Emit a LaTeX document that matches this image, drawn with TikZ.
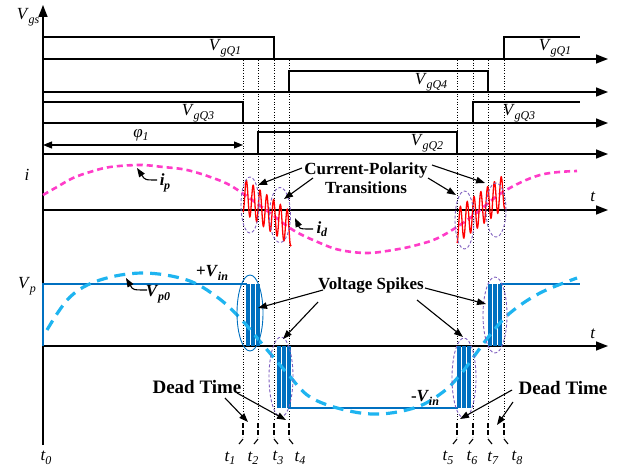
\documentclass[tikz,border=0pt]{standalone}
\usepackage{fontspec}
\setmainfont{Liberation Serif}
\usetikzlibrary{arrows.meta}
\definecolor{vblue}{HTML}{0070C0}
\definecolor{lblue}{HTML}{1EB4F0}
\definecolor{pinkm}{HTML}{FF3CC8}
\definecolor{purp}{HTML}{7F5FBF}
\newcommand{\sgl}[2]{\textit{#1}\kern-0.3pt\raisebox{-0.45ex}{\fontsize{12}{12}\selectfont\textit{#2}}}
\newcommand{\bsgl}[2]{\textbf{\textit{#1}}\kern-0.3pt\raisebox{-0.45ex}{\fontsize{12}{12}\selectfont\textbf{\textit{#2}}}}
\begin{document}
\begin{tikzpicture}[x=1pt,y=-1pt,
  axis/.style={line width=1.4pt,-{Triangle[length=12pt,width=9pt]}},
  pulse/.style={line width=1.4pt},
  guide/.style={line width=0.6pt,dash pattern=on 0.8pt off 1.8pt},
  tickd/.style={line width=1.1pt,dash pattern=on 5pt off 2pt},
  lab/.style={font=\fontsize{17}{20}\selectfont,inner sep=0pt},
  blab/.style={font=\fontsize{17}{20}\selectfont\bfseries,inner sep=0pt,align=center},
  pointer/.style={line width=1.1pt,-{Triangle[length=9pt,width=6.5pt]}},
  spike/.style={vblue,line width=3.2pt},
  ell/.style={purp,line width=0.9pt,dash pattern=on 3pt off 2pt}]
\useasboundingbox (0,0) rectangle (628,468);
% axes
\coordinate (O) at (43,445);
\coordinate (Ytop) at (43,5);
\draw[axis] (O) -- (Ytop);
\foreach \yy in {59,92,123,154,210,346}{
  \draw[axis] (43,\yy) -- (608,\yy);
}
\node[lab] (vgs) at (28,17) {\sgl{V}{gs}};
% gate pulses
\draw[pulse] (43,37) -- (274,37) -- (274,59);
\draw[pulse] (504,59) -- (504,37) -- (580,37);
\draw[pulse] (289,92) -- (289,71) -- (488,71) -- (488,92);
\draw[pulse] (43,102) -- (243,102) -- (243,123);
\draw[pulse] (473,123) -- (473,102) -- (580,102);
\draw[pulse] (258,154) -- (258,132) -- (457,132) -- (457,154);
\node[lab] (q1a) at (225,48) {\sgl{V}{gQ1}};
\node[lab] (q1b) at (555,48) {\sgl{V}{gQ1}};
\node[lab] (q4) at (431,82) {\sgl{V}{gQ4}};
\node[lab] (q3a) at (198,113) {\sgl{V}{gQ3}};
\node[lab] (q3b) at (519,113) {\sgl{V}{gQ3}};
\node[lab] (q2) at (427,143) {\sgl{V}{gQ2}};
% phi
\coordinate (phiL) at (43,145);
\coordinate (phiR) at (243,145);
\draw[line width=1.1pt,{Triangle[length=9pt,width=7pt]}-{Triangle[length=9pt,width=7pt]}] (phiL) -- (phiR);
\node[lab] (phi) at (141,135) {\sgl{φ}{1}};
% guides
\foreach \xx/\dd in {243/-4,258/-4,274/4,289/4,457/-4,473/-4,488/4,504/4}{
  \draw[guide] (\xx,60) -- (\xx,421);
  \draw[tickd] (\xx,423) -- (\xx,437);
  \draw[line width=1.1pt] (\xx,439) -- (\xx+\dd,444);
}
\node[lab] (t0) at (46,458) {\sgl{t}{0}};
\node[lab] (t1) at (230,458) {\sgl{t}{1}};
\node[lab] (t2) at (253,458) {\sgl{t}{2}};
\node[lab] (t3) at (278,458) {\sgl{t}{3}};
\node[lab] (t4) at (300,458) {\sgl{t}{4}};
\node[lab] (t5) at (448,458) {\sgl{t}{5}};
\node[lab] (t6) at (472,458) {\sgl{t}{6}};
\node[lab] (t7) at (493,458) {\sgl{t}{7}};
\node[lab] (t8) at (517,458) {\sgl{t}{8}};
% current channel
\node[lab] (ilab) at (27,175) {\textit{i}};
\node[lab] (tlab1) at (593,197) {\textit{t}};
\draw[pinkm,line width=2.6pt,dash pattern=on 6pt off 4pt] plot[smooth,tension=0.6] coordinates {(43,195) (57,187) (73,178) (90,172) (110,167) (140,165) (163,167) (187,170) (213,178) (233,187) (266,210) (293,230) (320,243) (340,250) (367,253) (393,250) (417,245) (440,237) (470,218) (503,192) (540,175) (577,171)};
\draw[red,line width=1.3pt] plot[domain=0:48,samples=240] ({243+\x},{195+\x*0.7083+17*cos(\x*52.94)});
\draw[red,line width=1.3pt] plot[domain=0:48,samples=240] ({457+\x},{226-\x*0.7292+17*cos(\x*52.94)});
\draw[ell] (250,205) ellipse [x radius=9pt,y radius=28pt];
\draw[ell] (280,215) ellipse [x radius=10.5pt,y radius=27.5pt];
\draw[ell] (464.5,220) ellipse [x radius=9.5pt,y radius=29pt];
\draw[ell] (496,210) ellipse [x radius=10pt,y radius=27pt];
\node[lab,font=\fontsize{17}{20}\selectfont\bfseries] (ip) at (165,183) {\bsgl{i}{p}};
\node[lab,font=\fontsize{17}{20}\selectfont\bfseries] (id) at (322,229) {\bsgl{i}{d}};
\coordinate (ipS) at (157,180); \coordinate (ipE) at (137,168);
\draw[pointer] (ipS) .. controls (145,180) .. (ipE);
\coordinate (idS) at (313,229); \coordinate (idE) at (295,218);
\draw[pointer] (idS) .. controls (300,229) .. (idE);
\node[blab] (cpt) at (366,178) {Current-Polarity\\[-1pt]Transitions};
\coordinate (a1s) at (302,168); \coordinate (a1e) at (258,185);
\coordinate (a2s) at (313,178); \coordinate (a2e) at (284,199);
\coordinate (a3s) at (432,165); \coordinate (a3e) at (485,183);
\coordinate (a4s) at (428,178); \coordinate (a4e) at (456,195);
\draw[pointer] (a1s) -- (a1e);
\draw[pointer] (a2s) -- (a2e);
\draw[pointer] (a3s) -- (a3e);
\draw[pointer] (a4s) -- (a4e);
% voltage channel
\node[lab] (vp) at (27,286) {\sgl{V}{p}};
\node[lab] (tlab2) at (593,334) {\textit{t}};
\draw[vblue,line width=1.2pt] (43,346) -- (43,284) -- (247,284);
\draw[vblue,line width=1.2pt] (288,408) -- (458,408);
\draw[vblue,line width=1.2pt] (500,284) -- (580,284);
\foreach \xx in {248,253,258}{\draw[spike] (\xx,284) -- (\xx,346);}
\foreach \xx in {279,284,289}{\draw[spike] (\xx,346) -- (\xx,408);}
\foreach \xx in {459,464,469}{\draw[spike] (\xx,346) -- (\xx,408);}
\foreach \xx in {490,495,500}{\draw[spike] (\xx,284) -- (\xx,346);}
\draw[lblue,line width=3.2pt,dash pattern=on 11pt off 7pt] plot[smooth,tension=0.6] coordinates {(47,330) (70,297) (100,280) (143,273) (187,280) (217,297) (240,318) (263,345) (287,373) (310,397) (345,410) (380,414) (417,407) (443,392) (460,375) (475,355) (490,335) (510,313) (540,293) (577,278)};
\draw[vblue,line width=0.9pt] (250,313) ellipse [x radius=13pt,y radius=38pt];
\draw[ell] (281,377) ellipse [x radius=12pt,y radius=40pt];
\draw[ell] (464,378) ellipse [x radius=12pt,y radius=40pt];
\draw[ell] (495,315) ellipse [x radius=12pt,y radius=38pt];
\node[lab,font=\fontsize{17}{20}\selectfont\bfseries] (pvin) at (212,273) {+\bsgl{V}{in}};
\node[lab,font=\fontsize{17}{20}\selectfont\bfseries] (mvin) at (425,398) {-\bsgl{V}{in}};
\node[lab,font=\fontsize{17}{20}\selectfont\bfseries] (vp0) at (158,294) {\bsgl{V}{p0}};
\coordinate (vpS) at (147,290); \coordinate (vpE) at (126,278);
\draw[pointer] (vpS) .. controls (133,290) .. (vpE);
\node[blab] (vs) at (371,285) {Voltage Spikes};
\coordinate (b1s) at (323,290); \coordinate (b1e) at (258,308);
\coordinate (b2s) at (318,302); \coordinate (b2e) at (283,339);
\coordinate (b3s) at (425,288); \coordinate (b3e) at (486,304);
\coordinate (b4s) at (417,300); \coordinate (b4e) at (463,337);
\draw[pointer] (b1s) -- (b1e);
\draw[pointer] (b2s) -- (b2e);
\draw[pointer] (b3s) -- (b3e);
\draw[pointer] (b4s) -- (b4e);
% dead time
\node[blab,font=\fontsize{19}{22}\selectfont\bfseries] (dt1) at (197,387) {Dead Time};
\node[blab,font=\fontsize{19}{22}\selectfont\bfseries] (dt2) at (563,388) {Dead Time};
\coordinate (c1s) at (225,398); \coordinate (c1e) at (248,422);
\coordinate (c2s) at (237,393); \coordinate (c2e) at (286,420);
\coordinate (c3s) at (512,390); \coordinate (c3e) at (460,419);
\coordinate (c4s) at (513,402); \coordinate (c4e) at (497,425);
\draw[pointer] (c1s) -- (c1e);
\draw[pointer] (c2s) -- (c2e);
\draw[pointer] (c3s) -- (c3e);
\draw[pointer] (c4s) -- (c4e);
\end{tikzpicture}
\end{document}
